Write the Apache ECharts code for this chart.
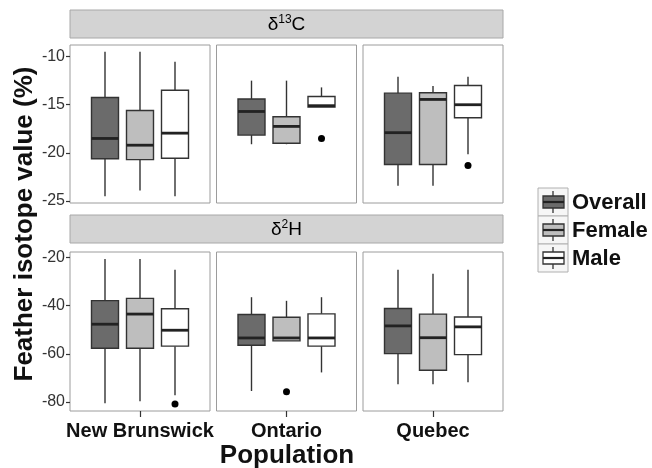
<!DOCTYPE html>
<html>
<head>
<meta charset="utf-8">
<script src="https://cdn.jsdelivr.net/npm/echarts@6/dist/echarts.min.js"></script>
<style>html,body{margin:0;padding:0;background:#fff}#chart{width:652px;height:468px}</style>
</head>
<body>
<div id="chart"></div>
<script>
// ---- data ----
const populations = ['New Brunswick', 'Ontario', 'Quebec'];
const groups = ['Overall', 'Female', 'Male'];
const groupColors = ['#6b6b6b', '#bebebe', '#ffffff'];
// each entry: [min, q1, median, q3, max] for Overall, Female, Male
const c13_newBrunswick = [[-24.5, -20.6, -18.5, -14.25, -9.5], [-23.9, -20.7, -19.2, -15.6, -9.5], [-24.5, -20.55, -17.95, -13.5, -10.55]];
const c13_ontario = [[-19.1, -18.15, -15.7, -14.4, -12.5], [-19.1, -19.0, -17.25, -16.25, -12.5], [-15.25, -15.25, -15.1, -14.15, -13.2]];
const c13_quebec = [[-23.4, -21.2, -17.9, -13.8, -12.1], [-23.4, -21.2, -14.45, -13.75, -13.05], [-20.15, -16.35, -15.0, -13.0, -12.1]];
const h2_newBrunswick = [[-80.5, -57.7, -47.7, -37.9, -20.7], [-79.7, -57.7, -43.5, -37.0, -20.7], [-77.2, -56.8, -50.2, -41.3, -25.1]];
const h2_ontario = [[-75.4, -56.4, -53.4, -43.7, -36.5], [-54.6, -54.6, -53.4, -44.8, -38.0], [-67.7, -56.8, -53.4, -43.4, -36.5]];
const h2_quebec = [[-72.6, -59.9, -48.4, -41.2, -25.1], [-72.6, -66.8, -53.3, -43.5, -26.8], [-71.8, -60.3, -48.8, -44.7, -25.1]];
// outliers: [groupIndex, value]
const c13_outliers_newBrunswick = [];
const c13_outliers_ontario = [[2, -18.5]];
const c13_outliers_quebec = [[2, -21.3]];
const h2_outliers_newBrunswick = [[2, -80.8]];
const h2_outliers_ontario = [[1, -75.7]];
const h2_outliers_quebec = [];
const c13_ticks = [-25, -20, -15, -10];
const h2_ticks = [-80, -60, -40, -20];

// ---- layout ----
const panelLefts = [70, 216.5, 363];
const panelW = 140;
const rows = [
  { top: 45, height: 158, min: -25.2, max: -8.8, ticks: c13_ticks, stats: [c13_newBrunswick, c13_ontario, c13_quebec], outs: [c13_outliers_newBrunswick, c13_outliers_ontario, c13_outliers_quebec] },
  { top: 252, height: 159, min: -83.7, max: -17.75, ticks: h2_ticks, stats: [h2_newBrunswick, h2_ontario, h2_quebec], outs: [h2_outliers_newBrunswick, h2_outliers_ontario, h2_outliers_quebec] }
];
const slots = ['', ...groups, ''];
const FONT = 'Liberation Sans, Arial, sans-serif';

const grid = [], xAxis = [], yAxis = [], series = [];
rows.forEach((row, r) => {
  panelLefts.forEach((left, p) => {
    const gi = r * 3 + p;
    grid.push({ left: left, top: row.top, width: panelW, height: row.height, show: true, borderColor: '#9c9c9c', borderWidth: 1, backgroundColor: '#fff' });
    xAxis.push({
      type: 'category', gridIndex: gi, data: slots, boundaryGap: false,
      axisLine: { show: false },
      axisTick: { show: r === 1, length: 6, interval: (i) => i === 2, lineStyle: { color: '#333', width: 1.2 } },
      axisLabel: { show: r === 1, interval: (i) => i === 2, formatter: (v, i) => populations[p], margin: 10, fontFamily: FONT, fontWeight: 'bold', fontSize: 20, color: '#111' },
      splitLine: { show: false }
    });
    yAxis.push({
      type: 'value', gridIndex: gi, min: row.min, max: row.max,
      axisLine: { show: false },
      axisTick: { show: p === 0, length: 4, customValues: row.ticks, lineStyle: { color: '#333', width: 1.2 } },
      axisLabel: { show: p === 0, customValues: row.ticks, margin: 5, fontFamily: FONT, fontSize: 16, color: '#333' },
      splitLine: { show: false }
    });
    series.push({
      type: 'custom', xAxisIndex: gi, yAxisIndex: gi,
      data: row.stats[p].map((s, i) => [i + 1, ...s]),
      encode: { x: 0, y: [1, 2, 3, 4, 5] },
      renderItem: function (params, api) {
        const x = api.value(0);
        const yMin = api.coord([x, api.value(1)])[1];
        const yQ1 = api.coord([x, api.value(2)])[1];
        const yMed = api.coord([x, api.value(3)])[1];
        const yQ3 = api.coord([x, api.value(4)])[1];
        const yMax = api.coord([x, api.value(5)])[1];
        const cx = api.coord([x, api.value(3)])[0];
        const w = 27;
        const st = { stroke: '#333', lineWidth: 1.4 };
        return {
          type: 'group', children: [
            { type: 'line', shape: { x1: cx, y1: yMax, x2: cx, y2: yQ3 }, style: st },
            { type: 'line', shape: { x1: cx, y1: yQ1, x2: cx, y2: yMin }, style: st },
            { type: 'rect', shape: { x: cx - w / 2, y: yQ3, width: w, height: yQ1 - yQ3 }, style: { fill: groupColors[params.dataIndex], stroke: '#333', lineWidth: 1.4 } },
            { type: 'line', shape: { x1: cx - w / 2, y1: yMed, x2: cx + w / 2, y2: yMed }, style: { stroke: '#222', lineWidth: 2.8 } }
          ]
        };
      }
    });
    series.push({
      type: 'scatter', xAxisIndex: gi, yAxisIndex: gi,
      data: row.outs[p].map(o => [o[0] + 1, o[1]]),
      symbolSize: 7, itemStyle: { color: '#000', opacity: 1 }
    });
  });
});

// strips
const stripLabels = [
  '{a|δ}{s|13}{a|C}',
  '{a|δ}{s|2}{a|H}'
];
const stripTops = [10, 215];
const graphic = [];
stripTops.forEach((t, i) => {
  graphic.push({ type: 'rect', shape: { x: 70, y: t, width: 433, height: 28 }, style: { fill: '#d3d3d3', stroke: '#a8a8a8', lineWidth: 1 } });
  graphic.push({
    type: 'text', x: 286.5, y: t + 15,
    style: {
      text: stripLabels[i], align: 'center', verticalAlign: 'middle',
      rich: {
        a: { fontFamily: FONT, fontSize: 19, color: '#111' },
        s: { fontFamily: FONT, fontSize: 12, color: '#111', padding: [0, 0, 10, 0] }
      }
    }
  });
});
// axis titles
graphic.push({ type: 'text', x: 25, y: 224, rotation: Math.PI / 2, style: { text: 'Feather isotope value (%)', fontFamily: FONT, fontWeight: 'bold', fontSize: 26, fill: '#111', align: 'center', verticalAlign: 'middle' } });
graphic.push({ type: 'text', x: 287, y: 456, style: { text: 'Population', fontFamily: FONT, fontWeight: 'bold', fontSize: 26, fill: '#111', align: 'center', verticalAlign: 'middle' } });
// legend
groups.forEach((g, i) => {
  const ky = 188 + 28 * i;
  graphic.push({ type: 'rect', shape: { x: 538, y: ky, width: 30, height: 28 }, style: { fill: '#f6f6f6', stroke: '#b0b0b0', lineWidth: 1 } });
  graphic.push({ type: 'line', shape: { x1: 553, y1: ky + 3, x2: 553, y2: ky + 25 }, style: { stroke: '#333', lineWidth: 1.3 } });
  graphic.push({ type: 'rect', shape: { x: 543, y: ky + 8, width: 21, height: 12 }, style: { fill: groupColors[i], stroke: '#333', lineWidth: 1.3 } });
  graphic.push({ type: 'line', shape: { x1: 543, y1: ky + 14, x2: 564, y2: ky + 14 }, style: { stroke: '#222', lineWidth: 2.2 } });
  graphic.push({ type: 'text', x: 572, y: ky + 15, style: { text: g, fontFamily: FONT, fontWeight: 'bold', fontSize: 22, fill: '#111', align: 'left', verticalAlign: 'middle' } });
});

const chart = echarts.init(document.getElementById('chart'), null, { renderer: 'canvas' });
chart.setOption({ animation: false, backgroundColor: '#fff', grid, xAxis, yAxis, series, graphic });
</script>
</body>
</html>
